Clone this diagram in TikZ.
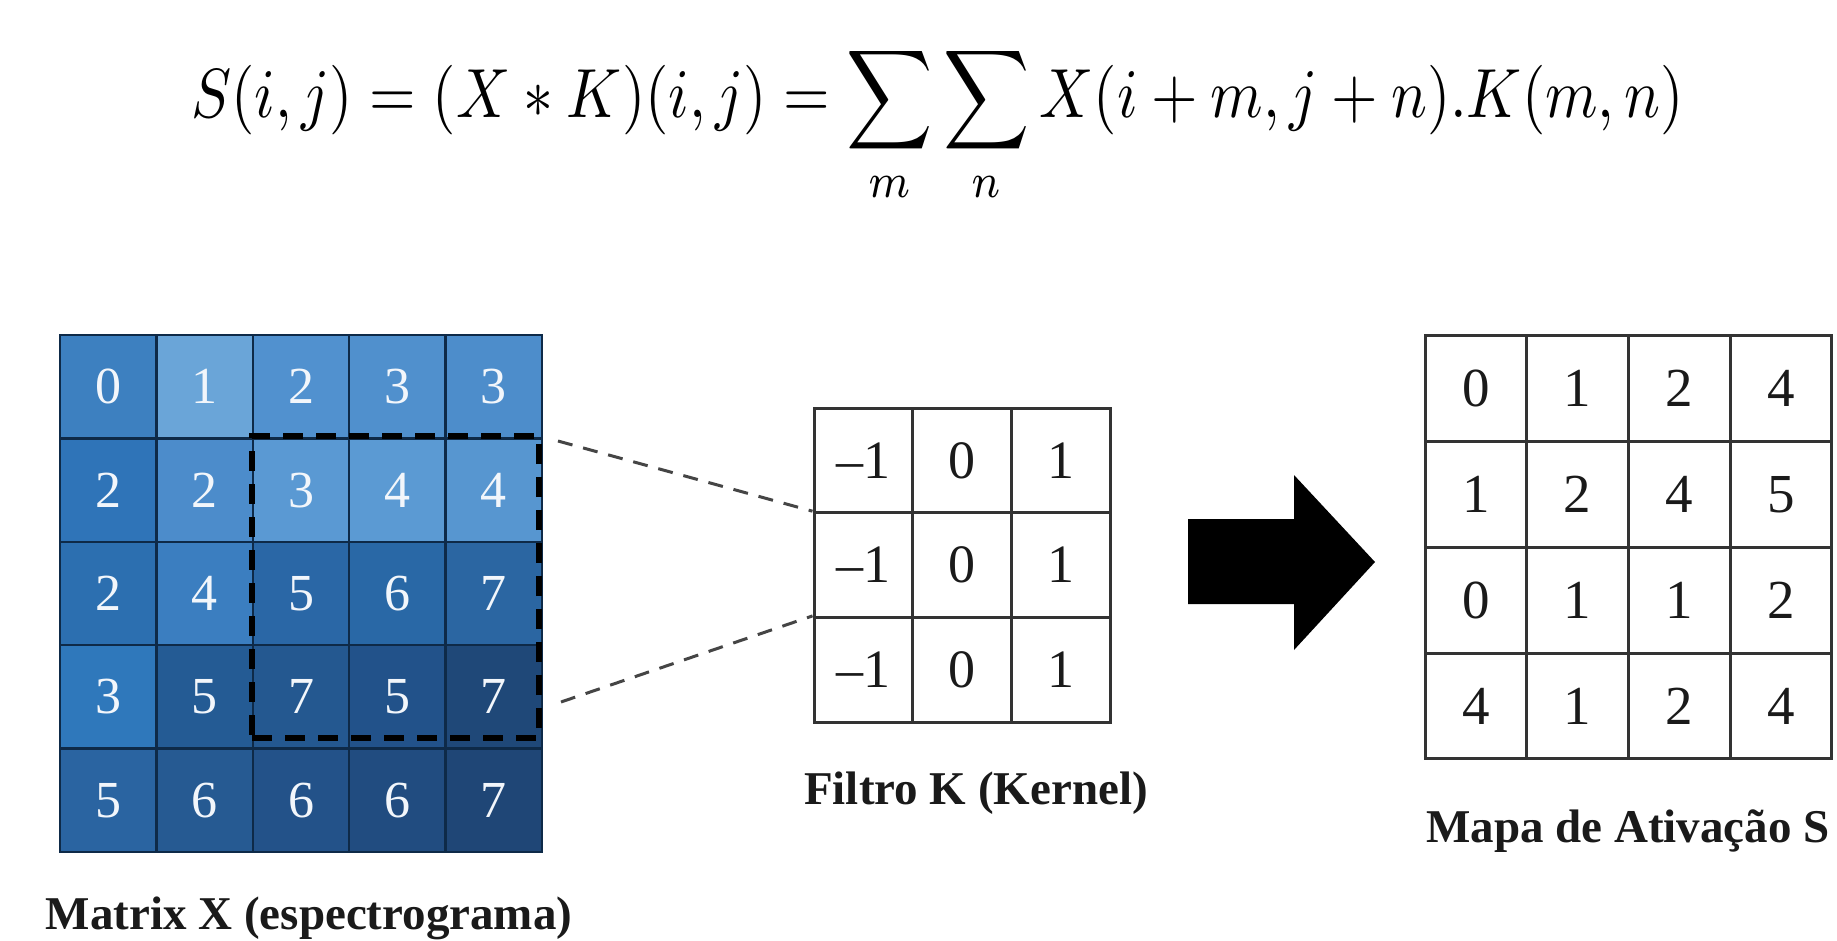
\documentclass[tikz,border=0pt]{standalone}
\usepackage{fontspec}
\setmainfont{Liberation Serif}
\usepackage{graphicx}
\definecolor{xline}{HTML}{0E2A48}
\definecolor{gline}{HTML}{333333}
\definecolor{conncol}{HTML}{454545}
\definecolor{labcol}{HTML}{1A1A1A}
\definecolor{digw}{HTML}{F2F6FB}
\definecolor{c00}{HTML}{3D80C0}\definecolor{c01}{HTML}{6AA5D8}\definecolor{c02}{HTML}{5191CF}\definecolor{c03}{HTML}{5090CD}\definecolor{c04}{HTML}{4D8DCB}
\definecolor{c10}{HTML}{2F74B8}\definecolor{c11}{HTML}{4C8CCB}\definecolor{c12}{HTML}{5A99D3}\definecolor{c13}{HTML}{5B9AD3}\definecolor{c14}{HTML}{5796D0}
\definecolor{c20}{HTML}{2C6FB0}\definecolor{c21}{HTML}{3B7EC0}\definecolor{c22}{HTML}{2A67A6}\definecolor{c23}{HTML}{2968A6}\definecolor{c24}{HTML}{2B66A2}
\definecolor{c30}{HTML}{2F78BB}\definecolor{c31}{HTML}{245B94}\definecolor{c32}{HTML}{245890}\definecolor{c33}{HTML}{22528A}\definecolor{c34}{HTML}{1F4878}
\definecolor{c40}{HTML}{2A64A1}\definecolor{c41}{HTML}{265A92}\definecolor{c42}{HTML}{235289}\definecolor{c43}{HTML}{214C80}\definecolor{c44}{HTML}{1F4676}
\begin{document}
\begin{tikzpicture}[x=1pt,y=-1pt,
  xcell/.style={draw=xline,line width=2.5pt,minimum width=96.4pt,minimum height=103.4pt,inner sep=0pt,text=digw,font=\fontsize{52}{60}\selectfont},
  kcell/.style={draw=gline,line width=3pt,fill=white,minimum width=98.7pt,minimum height=104.7pt,inner sep=0pt,text=labcol,font=\fontsize{54}{62}\selectfont},
  scell/.style={draw=gline,line width=3pt,fill=white,minimum width=101.7pt,minimum height=105.8pt,inner sep=0pt,text=labcol,font=\fontsize{55}{63}\selectfont},
  winbox/.style={draw=black,line width=6pt,dash pattern=on 20pt off 13pt,minimum width=287pt,minimum height=302pt,inner sep=0pt},
  conn/.style={draw=conncol,line width=3pt,dash pattern=on 15pt off 11pt},
  lab/.style={text=labcol,font=\fontsize{47}{56}\selectfont\bfseries,inner sep=0pt,anchor=base}]
\fill[white] (0,0) rectangle (1837,940);
\useasboundingbox (0,0) rectangle (1837,940);
% equation
\node[anchor=north west,inner sep=0pt] (eq) at (191,44)
  {\resizebox*{1492pt}{160pt}{$\displaystyle S(i,j)=(X*K)(i,j)=\sum_{m}\sum_{n}X(i+m,j+n).K(m,n)$}};
% matrix X
\foreach \r/\c/\v in {0/0/0,0/1/1,0/2/2,0/3/3,0/4/3,
                      1/0/2,1/1/2,1/2/3,1/3/4,1/4/4,
                      2/0/2,2/1/4,2/2/5,2/3/6,2/4/7,
                      3/0/3,3/1/5,3/2/7,3/3/5,3/4/7,
                      4/0/5,4/1/6,4/2/6,4/3/6,4/4/7}
  \node[xcell,fill=c\r\c] (x\r\c) at ({60+96.4*\c+48.2},{335+103.4*\r+51.7}) {\v};
\node[winbox] (win) at (395.5,587) {};
% kernel
\foreach \r in {0,1,2}{
  \node[kcell] (k\r0) at ({814+49.35},{408+104.7*\r+52.35}) {\textendash1};
  \node[kcell] (k\r1) at ({814+98.7+49.35},{408+104.7*\r+52.35}) {0};
  \node[kcell] (k\r2) at ({814+2*98.7+49.35},{408+104.7*\r+52.35}) {1};
}
% connectors
\coordinate (up) at (558,441);
\coordinate (lo) at (561,702);
\draw[conn] (up) -- (k10.north west);
\draw[conn] (lo) -- (k20.north west);
% big arrow
\fill[black] (1188,519) -- (1294,519) -- (1294,475) -- (1375,562) -- (1294,650) -- (1294,604) -- (1188,604) -- cycle;
% activation map
\foreach \r/\c/\v in {0/0/0,0/1/1,0/2/2,0/3/4,
                      1/0/1,1/1/2,1/2/4,1/3/5,
                      2/0/0,2/1/1,2/2/1,2/3/2,
                      3/0/4,3/1/1,3/2/2,3/3/4}
  \node[scell] (s\r\c) at ({1425+101.7*\c+50.85},{335.7+105.8*\r+52.9}) {\v};
% labels
\node[lab] (labx) at (309,929) {Matrix X (espectrograma)};
\node[lab] (labk) at (976,804) {Filtro K (Kernel)};
\node[lab] (labs) at (1628,842) {Mapa de Ativação S};
\end{tikzpicture}
\end{document}
